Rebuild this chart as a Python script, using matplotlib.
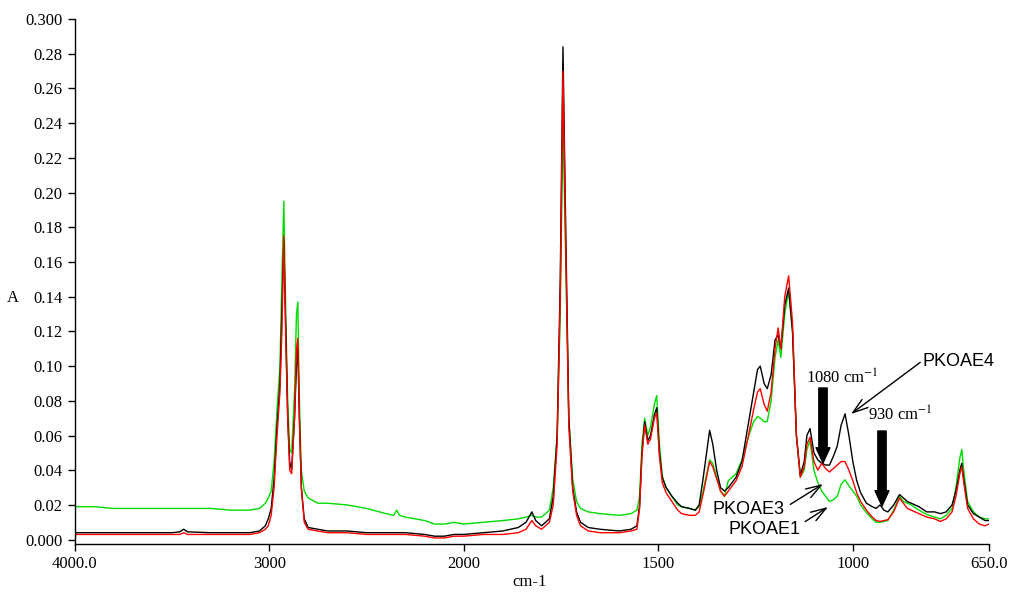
import numpy as np
import matplotlib
matplotlib.use("Agg")
import matplotlib.pyplot as plt

# ---------------- data ----------------
wavenumber = [4000, 3900, 3800, 3700, 3600, 3500, 3460, 3440, 3420, 3300, 3200, 3100,
              3050, 3020, 3005, 2990, 2975, 2960, 2945, 2935, 2925, 2915, 2905, 2895,
              2885, 2870, 2860, 2853, 2845, 2835, 2820, 2800, 2750, 2700, 2600, 2500,
              2400, 2360, 2345, 2330, 2300, 2200, 2150, 2100, 2050, 2000, 1950, 1900,
              1860, 1840, 1825, 1815, 1800, 1780, 1770, 1760, 1752, 1745, 1738, 1730,
              1720, 1710, 1700, 1680, 1650, 1600, 1570, 1555, 1548, 1542, 1535, 1527,
              1520, 1510, 1504, 1497, 1490, 1480, 1465, 1450, 1440, 1420, 1405, 1395,
              1385, 1368, 1360, 1350, 1340, 1330, 1320, 1300, 1285, 1270, 1255, 1245,
              1238, 1228, 1220, 1210, 1200, 1192, 1185, 1175, 1165, 1155, 1145, 1135,
              1125, 1118, 1110, 1100, 1090, 1080, 1070, 1060, 1050, 1040, 1030, 1020,
              1010, 1000, 990, 980, 965, 950, 940, 930, 920, 910, 895, 880,
              870, 860, 850, 830, 810, 790, 775, 760, 745, 735, 725, 720,
              715, 705, 690, 675, 660, 650]

pkoae4_black = [.004, .004, .004, .004, .004, .004, .0045, .006, .0045, .004, .004, .004,
                .005, .008, .012, .018, .035, .065, .09, .13, .172, .12, .07, .045,
                .04, .07, .10, .11, .07, .03, .012, .007, .006, .005, .005, .004,
                .004, .004, .004, .004, .004, .003, .002, .002, .003, .003, .004, .005,
                .007, .010, .016, .011, .008, .012, .025, .06, .15, .284, .18, .07,
                .03, .016, .010, .007, .006, .005, .006, .008, .02, .05, .068, .057,
                .06, .072, .076, .05, .036, .030, .025, .021, .019, .018, .017, .020,
                .035, .063, .055, .04, .030, .028, .030, .036, .045, .065, .085, .098,
                .10, .09, .087, .095, .115, .118, .11, .135, .145, .12, .06, .037,
                .045, .06, .064, .05, .046, .044, .043, .043, .048, .054, .066, .0725,
                .06, .045, .034, .027, .021, .019, .018, .020, .017, .016, .020, .026,
                .024, .022, .021, .019, .016, .016, .015, .016, .020, .028, .040, .044,
                .035, .020, .015, .013, .011, .011]

pkoae3_red = [.003, .003, .003, .003, .003, .003, .003, .004, .003, .003, .003, .003,
              .004, .006, .008, .014, .03, .06, .085, .12, .175, .115, .07, .04,
              .038, .07, .11, .116, .07, .03, .01, .006, .005, .004, .004, .003,
              .003, .003, .003, .003, .003, .002, .001, .001, .002, .002, .003, .003,
              .004, .006, .011, .008, .006, .010, .020, .055, .14, .27, .17, .065,
              .028, .014, .008, .005, .004, .004, .005, .006, .018, .048, .066, .055,
              .058, .07, .073, .048, .033, .027, .022, .017, .015, .014, .014, .016,
              .026, .045, .042, .035, .028, .025, .028, .034, .042, .058, .075, .085,
              .087, .078, .074, .085, .11, .122, .11, .14, .152, .125, .06, .036,
              .042, .055, .059, .045, .040, .044, .041, .039, .041, .043, .045, .045,
              .04, .034, .027, .022, .017, .013, .011, .0105, .011, .0115, .016, .024,
              .021, .018, .017, .015, .013, .012, .0105, .012, .016, .025, .038, .042,
              .033, .018, .012, .009, .008, .009]

pkoae1_green = [.019, .019, .018, .018, .018, .018, .018, .018, .018, .018, .017, .017,
                .018, .021, .024, .028, .045, .075, .1, .15, .195, .13, .08, .052,
                .05, .085, .13, .137, .08, .04, .028, .024, .021, .021, .02, .018,
                .015, .014, .017, .014, .013, .011, .009, .009, .010, .009, .010, .011,
                .012, .013, .014, .013, .013, .017, .03, .06, .13, .24, .16, .07,
                .035, .022, .018, .016, .015, .014, .015, .017, .025, .055, .070, .06,
                .065, .078, .083, .055, .037, .030, .025, .020, .019, .018, .017, .019,
                .028, .046, .044, .036, .028, .025, .034, .038, .046, .058, .068, .071,
                .07, .068, .068, .08, .105, .115, .105, .13, .143, .12, .06, .036,
                .04, .052, .057, .04, .033, .028, .025, .022, .023, .025, .032, .0345,
                .031, .028, .025, .02, .0155, .012, .010, .010, .0105, .011, .017, .025,
                .022, .021, .020, .017, .0145, .013, .012, .014, .018, .03, .047, .052,
                .04, .022, .016, .013, .012, .012]

xtick_values = [4000, 3000, 2000, 1500, 1000, 650]
xtick_labels = ["4000.0", "3000", "2000", "1500", "1000", "650.0"]
ytick_values = [0.0, 0.02, 0.04, 0.06, 0.08, 0.10, 0.12, 0.14, 0.16, 0.18, 0.20,
                0.22, 0.24, 0.26, 0.28, 0.30]
ytick_labels = ["0.000", "0.02", "0.04", "0.06", "0.08", "0.10", "0.12", "0.14", "0.16",
                "0.18", "0.20", "0.22", "0.24", "0.26", "0.28", "0.300"]

# ---------------- figure ----------------
W, H = 1015, 595
fig = plt.figure(figsize=(W / 100, H / 100), dpi=100)
SERIF = ["Liberation Serif", "DejaVu Serif"]
SANS = ["Liberation Sans", "DejaVu Sans"]

L, R, T, B = 74.7, 989, 19, 544
ax = fig.add_axes([L / W, (H - B) / H, (R - L) / W, (B - T) / H])


def fwd(x):
    x = np.asarray(x, dtype=float)
    return np.where(x > 2000, 2000 + (x - 2000) / 2.0, x)


def inv(u):
    u = np.asarray(u, dtype=float)
    return np.where(u > 2000, 2000 + (u - 2000) * 2.0, u)


ax.set_xscale("function", functions=(fwd, inv))

ax.plot(wavenumber, pkoae1_green, color="#00dc00", lw=1.0)
ax.plot(wavenumber, pkoae4_black, color="black", lw=1.0)
ax.plot(wavenumber, pkoae3_red, color="#ff0000", lw=1.0)

ax.set_xlim(4000, 650)
ax.set_ylim(-0.0025, 0.300)

ax.spines["top"].set_visible(False)
ax.spines["right"].set_visible(False)
for s in ("left", "bottom"):
    ax.spines[s].set_linewidth(1.0)

ax.set_xticks(xtick_values)
ax.set_xticklabels(xtick_labels, fontfamily=SERIF, fontsize=12)
ax.set_yticks(ytick_values)
ax.set_yticklabels(ytick_labels, fontfamily=SERIF, fontsize=12)
ax.xaxis.set_minor_locator(matplotlib.ticker.NullLocator())
ax.tick_params(axis="both", direction="out", length=5, width=1.0, pad=4)

fig.text(13 / W, 1 - 298 / H, "A", fontfamily=SERIF, fontsize=12, ha="center", va="center")
fig.text(530 / W, 1 - 582 / H, "cm-1", fontfamily=SERIF, fontsize=12, ha="center", va="center")


def P(x, y):
    return (x, H - y)


# labels with open arrowheads
ax.annotate("PKOAE4", xy=P(851, 414), xycoords="figure pixels",
            xytext=P(923, 362), textcoords="figure pixels",
            fontfamily=SANS, fontsize=13, ha="left", va="center",
            arrowprops=dict(arrowstyle="->,head_length=0.55,head_width=0.18",
                            color="black", lw=1.0, mutation_scale=20,
                            shrinkA=0, shrinkB=0, relpos=(0, 0.6)))
ax.annotate("PKOAE3", xy=P(823, 484), xycoords="figure pixels",
            xytext=P(712, 510), textcoords="figure pixels",
            fontfamily=SANS, fontsize=13, ha="left", va="center",
            arrowprops=dict(arrowstyle="->,head_length=0.55,head_width=0.18",
                            color="black", lw=1.0, mutation_scale=20,
                            shrinkA=3, shrinkB=0, relpos=(1, 0.6)))
ax.annotate("PKOAE1", xy=P(828, 507), xycoords="figure pixels",
            xytext=P(728, 530), textcoords="figure pixels",
            fontfamily=SANS, fontsize=13, ha="left", va="center",
            arrowprops=dict(arrowstyle="->,head_length=0.55,head_width=0.18",
                            color="black", lw=1.0, mutation_scale=20,
                            shrinkA=2, shrinkB=0, relpos=(1, 0.8)))

# wavenumber labels and thick arrows
fig.text(806 / W, 1 - 378 / H, "1080 cm$^{-1}$", fontfamily=SERIF, fontsize=12,
         ha="left", va="center", math_fontfamily="stix")
fig.text(868 / W, 1 - 415 / H, "930 cm$^{-1}$", fontfamily=SERIF, fontsize=12,
         ha="left", va="center", math_fontfamily="stix")
for xa, ytail, ytip in [(823, 388, 463), (882, 431, 506)]:
    ax.annotate("", xy=P(xa, ytip), xycoords="figure pixels",
                xytext=P(xa, ytail), textcoords="figure pixels",
                arrowprops=dict(arrowstyle="simple,head_width=1.0,head_length=1.1,tail_width=0.6",
                                color="black", mutation_scale=10, shrinkA=0, shrinkB=0))

fig.savefig("out.png", dpi=100)
